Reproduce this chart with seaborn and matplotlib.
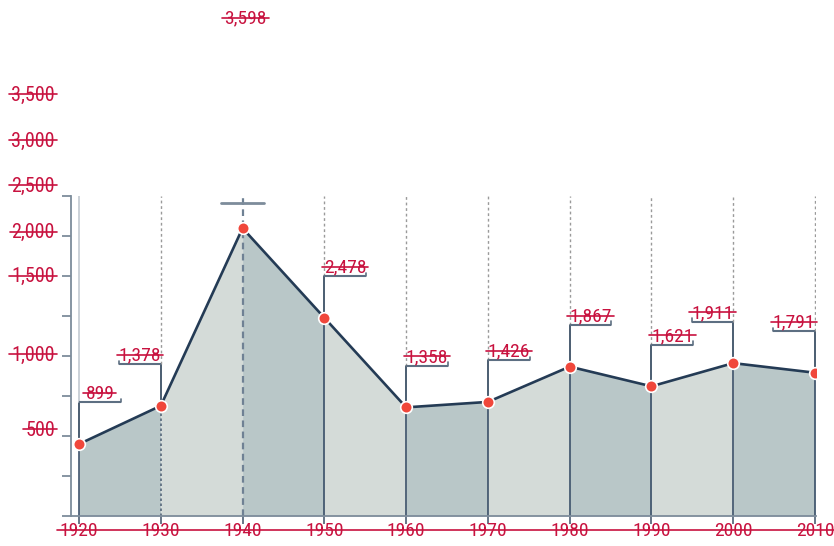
import pandas as pd
import matplotlib.pyplot as plt
import seaborn as sns
from matplotlib.lines import Line2D

# --- data ---
years = [1920, 1930, 1940, 1950, 1960, 1970, 1980, 1990, 2000, 2010]
values = [899, 1378, 3598, 2478, 1358, 1426, 1867, 1621, 1911, 1791]
value_labels = ['899', '1,378', '3,598', '2,478', '1,358', '1,426',
                '1,867', '1,621', '1,911', '1,791']
year_labels = [str(y) for y in years]

ytick_labels = ['500', '1,000', '1,500', '2,000', '2,500', '3,000', '3,500']

# layout (the original draws its y labels shifted away from the ticks)
label_side = ['r', 'l', 'c', 'r', 'r', 'r', 'r', 'r', 'l', 'l']
ylabel_y = [1075, 2012, 2994, 3544, 4125, 4688, 5262]

df = pd.DataFrame({'year': years, 'value': values})

sns.set_style('white')
plt.rcParams['font.family'] = ['Roboto Condensed', 'Open Sans Condensed',
                               'Liberation Sans Narrow', 'DejaVu Sans']
plt.rcParams['font.stretch'] = 'condensed'

RED = '#c8123f'
NAVY = '#243b55'
AXC = '#7d8c9b'
DARK_FILL = '#b9c7c8'
LIGHT_FILL = '#d4dbd8'
FS = 14
FS_Y = 14.5

fig = plt.figure(figsize=(8.34, 5.46), dpi=100)
ax = fig.add_axes([71 / 834, 30 / 546, 745 / 834, 320 / 546])
ax.set_xlim(1919.02, 2010.12)
ax.set_ylim(0, 4000)

# alternating area segments
for i in range(len(years) - 1):
    ax.fill_between(years[i:i + 2], values[i:i + 2], 0,
                    color=DARK_FILL if i % 2 == 0 else LIGHT_FILL, lw=0, zorder=1)

strike = []
W = 5.1   # bracket width in years
for i, (yr, v, lab, side) in enumerate(zip(years, values, value_labels, label_side)):
    if side == 'c':
        level = 3910
        ax.plot([yr, yr], [0, 4030], color='#6f8194', lw=1.6, ls=(0, (3, 2)),
                zorder=2, clip_on=False)
        ax.plot([yr - 2.6, yr + 2.6], [level, level], color=AXC, lw=2, zorder=2)
        t = ax.annotate(lab, xy=(yr, level), xytext=(2, 133), textcoords='offset points',
                        ha='center', va='center', color=RED, fontsize=FS,
                        annotation_clip=False)
        strike.append(t)
        continue

    level = v + 520
    # below the point
    if i == 1:
        ax.plot([yr, yr], [0, v], color='#56677a', lw=1.2, ls=(0, (1.5, 1.5)), zorder=2)
    else:
        ax.plot([yr, yr], [0, v], color='#2f4560', lw=1.1, zorder=2)
    # point -> bracket
    ax.plot([yr, yr], [v, level], color='#3d5066', lw=1.3, zorder=2)
    # bracket -> top
    if i == 0:
        ax.plot([yr, yr], [level, 4000], color='#c7ced4', lw=1.3, zorder=2)
    else:
        ax.plot([yr, yr], [level, 4000], color='#9a9a9a', lw=1, ls=(0, (2, 2)), zorder=2)

    end = yr + W if side == 'r' else yr - W
    ax.plot([yr, end], [level, level], color='#5d6f82', lw=1.5, zorder=2,
            solid_capstyle='butt')
    ax.plot([end, end], [level, level + 45], color='#5d6f82', lw=1.2, zorder=2)
    t = ax.annotate(lab, xy=((yr + end) / 2, level), xytext=(0, 2.5),
                    textcoords='offset points', ha='center', va='baseline',
                    color=RED, fontsize=FS)
    strike.append(t)

sns.lineplot(data=df, x='year', y='value', color=NAVY, linewidth=1.9, ax=ax, zorder=3)
sns.scatterplot(data=df, x='year', y='value', color='#f0473b', s=70,
                edgecolor='white', linewidth=1.2, ax=ax, zorder=4)

# axes styling
for s in ['top', 'right']:
    ax.spines[s].set_visible(False)
for s in ['left', 'bottom']:
    ax.spines[s].set_color(AXC)
    ax.spines[s].set_linewidth(1.3)
ax.set_yticks(range(0, 4001, 500))
ax.set_yticklabels([])
ax.tick_params(axis='y', direction='out', length=6.5, width=1.3, color=AXC, left=True)
ax.set_xticks(years)
ax.set_xticklabels(year_labels)
ax.tick_params(axis='x', direction='out', length=6, width=1.2, color='#4d5f73',
               bottom=True, labelcolor=RED, labelsize=FS, pad=-2)
ax.set_xlabel('')
ax.set_ylabel('')

for lab, y in zip(ytick_labels, ylabel_y):
    t = ax.text(-0.0215, y, lab, transform=ax.get_yaxis_transform(),
                ha='right', va='center', color=RED, fontsize=FS_Y, clip_on=False)
    strike.append(t)

# strike-through lines
fig.canvas.draw()
r = fig.canvas.get_renderer()
inv = fig.transFigure.inverted()
for t in strike:
    bb = t.get_window_extent(r)
    y = bb.y0 + 0.55 * bb.height
    (x0, yy), (x1, _) = inv.transform([(bb.x0 - 2, y), (bb.x1 + 2, y)])
    fig.add_artist(Line2D([x0, x1], [yy, yy], transform=fig.transFigure,
                          color=RED, lw=1.2))

bb = ax.get_xticklabels()[0].get_window_extent(r)
y = bb.y0 + 0.55 * bb.height
(x0, yy) = inv.transform((bb.x0 - 3, y))
fig.add_artist(Line2D([x0, 1], [yy, yy], transform=fig.transFigure, color=RED, lw=1.2))

fig.savefig('out.png', dpi=100)
